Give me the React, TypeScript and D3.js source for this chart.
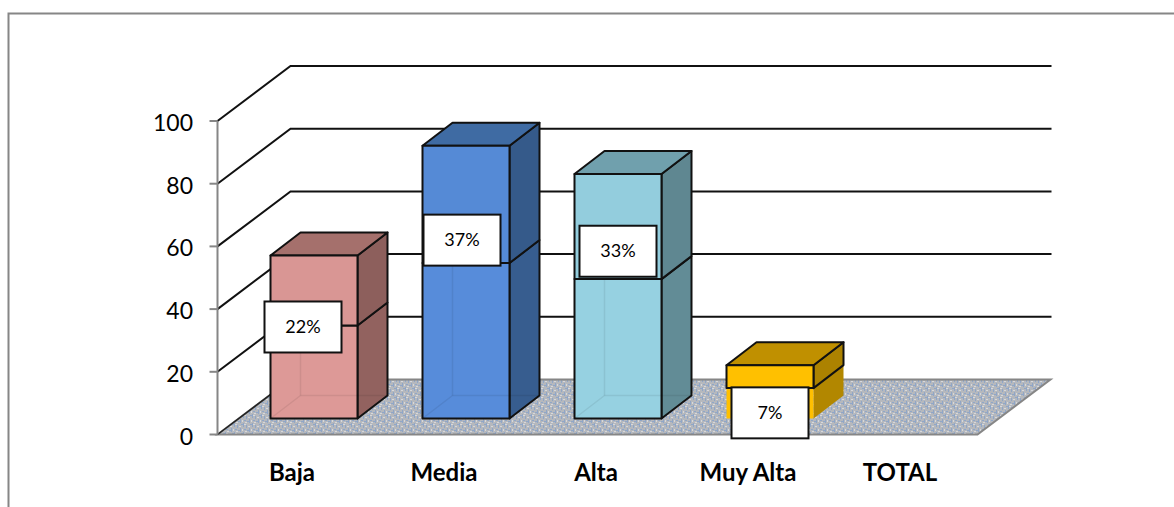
import { useEffect, useRef } from "react";
import * as d3 from "d3";

const categories = ["Baja", "Media", "Alta", "Muy Alta", "TOTAL"];
const values = [52, 87, 78, 17, 0];
const percentLabels = ["22%", "37%", "33%", "7%", ""];
const yTicks = [0, 20, 40, 60, 80, 100];

// face colours per bar: front, top, side
const frontColors = ["#d99694", "#558ad6", "#93cddd", "#ffc000", "none"];
const topColors = ["#a5706c", "#3f6ba3", "#70a0ad", "#c09000", "none"];
const sideColors = ["#8d5f5c", "#355a8a", "#5f8791", "#ac8200", "none"];

// labels were dragged by hand in the original, so they sit off centre
const labelShift: [number, number][] = [[-11, -10], [-4, -42], [0, -45], [0, 21], [0, 0]];

const width = 1174;
const height = 507;
const axisX = 217.5;
const floorRight = 977.5;
const wallDx = 73;
const wallDy = -55;
const barDx = 30;
const barDy = -23;
const barFrontBase = 418.5;
const barWidth = 87;
const seam = 0.57; // the bars change shade a bit above the middle

export default function App() {
    const svgRef = useRef<SVGSVGElement>(null);

    useEffect(() => {
        const svg = d3.select(svgRef.current);
        svg.selectAll("*").remove(); // Clear previous render

        const font = "Lato, sans-serif";

        const x = d3.scaleBand().domain(categories).range([axisX, floorRight]);
        const y = d3.scaleLinear().domain([0, 100]).range([434.5, 121]);
        const barHeight = d3.scaleLinear().domain([0, 100]).range([0, 313.5]);

        // Floor texture
        const pattern = svg.append("defs").append("pattern")
            .attr("id", "floor")
            .attr("patternUnits", "userSpaceOnUse")
            .attr("width", 9)
            .attr("height", 9);
        pattern.append("rect").attr("width", 9).attr("height", 9).attr("fill", "#b5b8bd");
        [[0, 0, 1, 4], [3, 2, 1, 3], [6, 5, 1, 4], [4, 7, 2, 1], [1, 6, 2, 1], [7, 1, 2, 1]].forEach(([a, b, w, h]) => {
            pattern.append("rect").attr("x", a).attr("y", b).attr("width", w).attr("height", h).attr("fill", "#8fa6c8");
        });
        [[1, 1, 2, 1], [5, 3, 2, 1], [2, 8, 2, 1], [8, 6, 1, 2]].forEach(([a, b, w, h]) => {
            pattern.append("rect").attr("x", a).attr("y", b).attr("width", w).attr("height", h).attr("fill", "#d6d8dc");
        });

        // Outer frame, cut off by the picture on two sides
        svg.append("path")
            .attr("d", `M8.5,${height}V13.5H${width}`)
            .attr("fill", "none")
            .attr("stroke", "#868686")
            .attr("stroke-width", 2);

        // Floor
        svg.append("path")
            .attr("d", d3.line()([
                [axisX, y(0)],
                [axisX + wallDx, y(0) + wallDy],
                [floorRight + wallDx, y(0) + wallDy],
                [floorRight, y(0)],
            ]) + "Z")
            .attr("fill", "url(#floor)")
            .attr("stroke", "#868686")
            .attr("stroke-width", 2);

        svg.append("line")
            .attr("x1", axisX).attr("y1", y(0))
            .attr("x2", axisX + wallDx).attr("y2", y(0) + wallDy)
            .attr("stroke", "#222")
            .attr("stroke-width", 1.5);

        // Gridlines on the side and back walls
        yTicks.filter(d => d > 0).forEach(d => {
            svg.append("path")
                .attr("d", d3.line()([
                    [axisX, y(d)],
                    [axisX + wallDx, y(d) + wallDy],
                    [floorRight + wallDx + 1, y(d) + wallDy],
                ]))
                .attr("fill", "none")
                .attr("stroke", "#111")
                .attr("stroke-width", 2);
        });

        // Value axis
        svg.append("line")
            .attr("x1", axisX).attr("y1", y(100))
            .attr("x2", axisX).attr("y2", y(0))
            .attr("stroke", "#868686")
            .attr("stroke-width", 2);

        const ticks = svg.append("g").selectAll("g").data(yTicks).enter().append("g");
        ticks.append("line")
            .attr("x1", axisX - 8).attr("x2", axisX)
            .attr("y1", d => y(d)).attr("y2", d => y(d))
            .attr("stroke", "#868686")
            .attr("stroke-width", 2);
        ticks.append("text")
            .attr("x", axisX - 24.5)
            .attr("y", d => y(d) + 1)
            .attr("text-anchor", "end")
            .attr("dominant-baseline", "central")
            .attr("font-family", font)
            .attr("font-size", 23)
            .attr("fill", "#000")
            .text(d => d);

        // Bars
        const poly = (pts: [number, number][]) => d3.line()(pts) + "Z";

        categories.forEach((cat, i) => {
            if (values[i] === 0) return;
            const left = (x(cat) as number) + 53;
            const right = left + barWidth;
            const bottom = barFrontBase;
            const top = bottom - barHeight(values[i]);
            const mid = bottom - (bottom - top) * seam;
            const g = svg.append("g").attr("stroke", "#111").attr("stroke-width", 2).attr("stroke-linejoin", "round");

            // lower part lets a little of the back show through; the short yellow bar has no outline there
            const lowerStroke = i === 3 ? "none" : "#111";
            g.append("path")
                .attr("d", poly([[right, mid], [right + barDx, mid + barDy], [right + barDx, bottom + barDy], [right, bottom]]))
                .attr("stroke", lowerStroke)
                .attr("fill", d3.color(sideColors[i])!.brighter(0.1).formatHex());
            g.append("path")
                .attr("d", poly([[left, mid], [right, mid], [right, bottom], [left, bottom]]))
                .attr("stroke", lowerStroke)
                .attr("fill", i === 3 ? frontColors[i] : d3.color(frontColors[i])!.brighter(0.05).formatHex());

            if (i !== 3) {
                g.append("path")
                    .attr("d", d3.line()([
                        [left, bottom],
                        [left + barDx, bottom + barDy],
                        [right + barDx, bottom + barDy],
                    ]))
                    .attr("fill", "none")
                    .attr("stroke", "#000")
                    .attr("stroke-opacity", 0.07)
                    .attr("stroke-width", 1.5);
                g.append("line")
                    .attr("x1", left + barDx).attr("y1", bottom + barDy)
                    .attr("x2", left + barDx).attr("y2", mid)
                    .attr("stroke", "#000")
                    .attr("stroke-opacity", 0.07)
                    .attr("stroke-width", 1.5);
            }

            // upper part
            g.append("path")
                .attr("d", poly([[right, top], [right + barDx, top + barDy], [right + barDx, mid + barDy], [right, mid]]))
                .attr("fill", sideColors[i]);
            g.append("path")
                .attr("d", poly([[left, top], [left + barDx, top + barDy], [right + barDx, top + barDy], [right, top]]))
                .attr("fill", topColors[i]);
            g.append("path")
                .attr("d", poly([[left, top], [right, top], [right, mid], [left, mid]]))
                .attr("fill", frontColors[i]);
        });

        // Data labels
        categories.forEach((cat, i) => {
            if (!percentLabels[i]) return;
            const cx = (x(cat) as number) + 53 + barWidth / 2 + labelShift[i][0];
            const top = barFrontBase - barHeight(values[i]);
            const cy = (top + barFrontBase) / 2 + labelShift[i][1];
            svg.append("rect")
                .attr("x", cx - 38.5).attr("y", cy - 25.5)
                .attr("width", 77).attr("height", 51)
                .attr("fill", "#fff")
                .attr("stroke", "#111")
                .attr("stroke-width", 2);
            svg.append("text")
                .attr("x", cx).attr("y", cy - 1)
                .attr("text-anchor", "middle")
                .attr("dominant-baseline", "central")
                .attr("font-family", font)
                .attr("font-size", 18)
                .attr("fill", "#000")
                .text(percentLabels[i]);
        });

        // Category labels
        svg.append("g").selectAll("text").data(categories).enter().append("text")
            .attr("x", d => (x(d) as number) + x.bandwidth() / 2 - 1.5)
            .attr("y", 471)
            .attr("text-anchor", "middle")
            .attr("dominant-baseline", "central")
            .attr("font-family", font)
            .attr("font-weight", 700)
            .attr("font-size", 24)
            .attr("fill", "#000")
            .text(d => d);
    }, []);

    return (
        <svg
            ref={svgRef}
            width={width}
            height={height}
            style={{ position: "absolute", left: 0, top: 0, background: "#fff" }}
        />
    );
}
